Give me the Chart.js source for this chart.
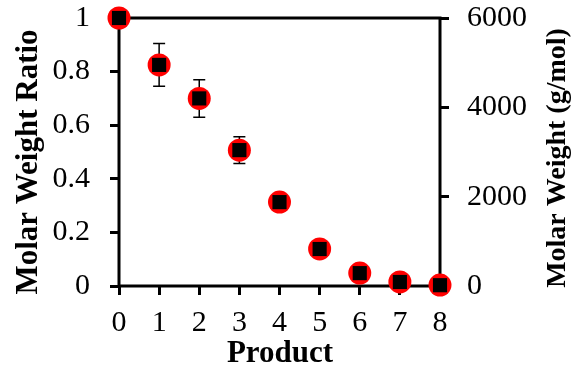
<!DOCTYPE html>
<html>
<head>
<meta charset="utf-8">
<script src="https://cdn.jsdelivr.net/npm/chart.js@4"></script>
<style>
  html, body { margin: 0; padding: 0; background: #fff; }
  #wrap { width: 572px; height: 368px; }
</style>
</head>
<body>
<div id="wrap"><canvas id="mwChart" width="572" height="368"></canvas></div>
<script>
const products = [0, 1, 2, 3, 4, 5, 6, 7, 8];
const ratio = [1.0, 0.825, 0.70, 0.507, 0.313, 0.138, 0.048, 0.015, 0.003];
const ratioErr = [0, 0.08, 0.07, 0.05, 0, 0, 0, 0, 0];
const molarWeight = [6000, 4950, 4200, 3040, 1880, 830, 290, 90, 20];
const leftTicks = [0, 0.2, 0.4, 0.6, 0.8, 1];
const rightTicks = [0, 2000, 4000, 6000];
const xTitle = "Product";
const leftTitle = "Molar Weight Ratio";
const rightTitle = "Molar Weight (g/mol)";

const font = "'Liberation Serif', 'Times New Roman', serif";

// error bars, frame and axis titles
const extras = {
  id: "extras",
  beforeDraw(chart) {
    const a = chart.chartArea, ctx = chart.ctx;
    ctx.save();
    ctx.strokeStyle = "#000";
    ctx.lineWidth = 3;
    ctx.strokeRect(a.left, a.top, a.right - a.left, a.bottom - a.top);
    ctx.restore();
  },
  beforeDatasetsDraw(chart) {
    const ctx = chart.ctx;
    const x = chart.scales.x, y = chart.scales.y;
    ctx.save();
    ctx.strokeStyle = "#000";
    ctx.lineWidth = 1.5;
    products.forEach((p, i) => {
      if (!ratioErr[i]) return;
      const px = x.getPixelForValue(p);
      const top = y.getPixelForValue(ratio[i] + ratioErr[i]);
      const bot = y.getPixelForValue(ratio[i] - ratioErr[i]);
      ctx.beginPath();
      ctx.moveTo(px, top); ctx.lineTo(px, bot);
      ctx.moveTo(px - 6, top); ctx.lineTo(px + 6, top);
      ctx.moveTo(px - 6, bot); ctx.lineTo(px + 6, bot);
      ctx.stroke();
    });
    ctx.restore();
  },
  afterDraw(chart) {
    const ctx = chart.ctx;
    ctx.save();
    ctx.fillStyle = "#000";
    ctx.font = "bold 31px " + font;
    ctx.textAlign = "center";
    ctx.textBaseline = "alphabetic";
    ctx.fillText(xTitle, 280, 362);

    ctx.save();
    ctx.translate(37, 162);
    ctx.rotate(-Math.PI / 2);
    ctx.fillText(leftTitle, 0, 0);
    ctx.restore();

    ctx.save();
    ctx.font = "bold 28px " + font;
    ctx.translate(565, 158);
    ctx.rotate(-Math.PI / 2);
    ctx.fillText(rightTitle, 0, 0);
    ctx.restore();
    ctx.restore();
  }
};

const tickFont = { family: font, size: 30 };
const tickGrid = { drawOnChartArea: false, color: "#000", lineWidth: 3, tickLength: 9, tickWidth: 3 };

function noPad(s) {
  s.paddingTop = 0; s.paddingBottom = 0;
  s.paddingLeft = 0; s.paddingRight = 0;
}

new Chart(document.getElementById("mwChart"), {
  type: "scatter",
  data: {
    datasets: [
      {
        label: "Molar Weight Ratio",
        data: products.map((p, i) => ({ x: p, y: ratio[i] })),
        yAxisID: "y",
        pointStyle: "rect",
        pointRadius: 10,
        backgroundColor: "#000",
        borderWidth: 0,
        clip: false,
        order: 1
      },
      {
        label: "Molar Weight (g/mol)",
        data: products.map((p, i) => ({ x: p, y: molarWeight[i] })),
        yAxisID: "y2",
        pointStyle: "circle",
        pointRadius: 11.5,
        backgroundColor: "#ff0000",
        borderWidth: 0,
        clip: false,
        order: 2
      }
    ]
  },
  plugins: [extras],
  options: {
    responsive: false,
    animation: false,
    layout: { padding: { top: 18, left: 0, right: 0, bottom: 0 } },
    plugins: { legend: { display: false }, tooltip: { enabled: false } },
    scales: {
      x: {
        type: "linear",
        min: 0, max: 8,
        afterBuildTicks: s => { s.ticks = products.map(v => ({ value: v })); },
        afterFit: s => { s.height = 82; noPad(s); },
        grid: tickGrid,
        border: { display: false },
        ticks: { color: "#000", font: tickFont, padding: 10, callback: v => String(v) }
      },
      y: {
        position: "left",
        min: 0, max: 1,
        afterBuildTicks: s => { s.ticks = leftTicks.map(v => ({ value: v })); },
        afterFit: s => { s.width = 119; noPad(s); },
        grid: tickGrid,
        border: { display: false },
        ticks: { color: "#000", font: tickFont, padding: 20, callback: v => String(v) }
      },
      y2: {
        position: "right",
        min: 0, max: 6000,
        afterBuildTicks: s => { s.ticks = rightTicks.map(v => ({ value: v })); },
        afterFit: s => { s.width = 132; noPad(s); },
        grid: tickGrid,
        border: { display: false },
        ticks: { color: "#000", font: tickFont, padding: 18, callback: v => String(v) }
      }
    }
  }
});
</script>
</body>
</html>
